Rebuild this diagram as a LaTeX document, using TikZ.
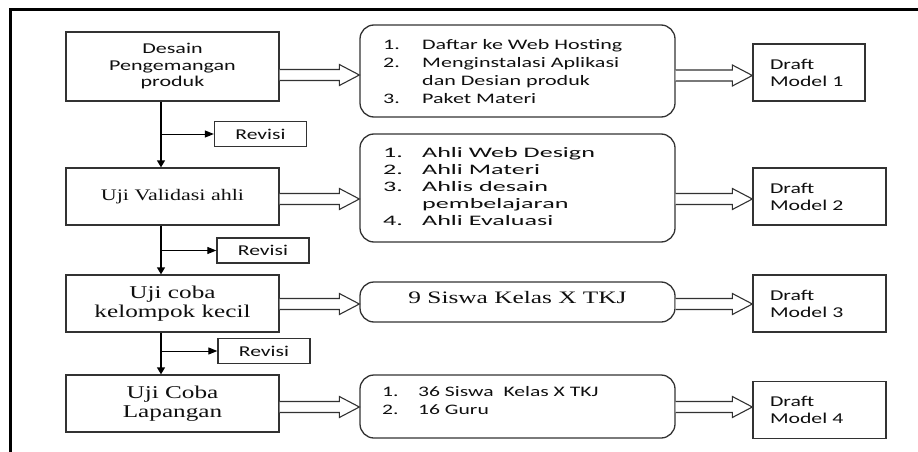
\documentclass[tikz,border=0pt]{standalone}
\usepackage{fontspec}
\setmainfont{Liberation Serif}
\newfontfamily\sfL[FakeStretch=1.52]{Carlito}
\newfontfamily\sfA[FakeStretch=1.8]{Carlito}
\newfontfamily\sfS[FakeStretch=1.49]{Carlito}
\newfontfamily\sfR[FakeStretch=1.44]{Carlito}
\newfontfamily\sfD[FakeStretch=1.45]{Carlito}
\newfontfamily\sfP[FakeStretch=1.47]{Carlito}
\newfontfamily\rmV[FakeStretch=1.367]{Liberation Serif}
\newfontfamily\rmU[FakeStretch=1.4]{Liberation Serif}
\newfontfamily\rmN[FakeStretch=1.447]{Liberation Serif}
\usetikzlibrary{arrows.meta,calc}
\definecolor{boxline}{RGB}{50,50,50}
\definecolor{txt}{RGB}{15,15,15}
\newcommand\harrow[3]{%
  \draw[hollow] let \p1=(#1.east), \p2=(#2.west) in
    (\x1,{-#3pt+5.5pt}) -- (\x2-20pt,{-#3pt+5.5pt}) -- (\x2-20pt,{-#3pt+10.5pt})
    -- (\x2,{-#3pt}) -- (\x2-20pt,{-#3pt-10.5pt}) -- (\x2-20pt,{-#3pt-5.5pt})
    -- (\x1,{-#3pt-5.5pt});}
\begin{document}
\begin{tikzpicture}[x=1pt,y=-1pt,
  every node/.style={text=txt},
  mainbox/.style={draw=boxline, line width=1.3pt, minimum width=213pt, inner sep=0pt, align=center},
  revbox/.style={draw=boxline, line width=1.3pt, minimum width=92pt, minimum height=25pt, inner sep=0pt,
    font=\sfR\fontsize{15}{17}\selectfont},
  rbox/.style={draw=boxline, line width=1.3pt, rounded corners=14pt, minimum width=315pt, inner sep=0pt},
  listtxt/.style={inner sep=0pt, align=left},
  dbox/.style={draw=boxline, line width=1.3pt, minimum height=57pt, inner xsep=17pt, inner ysep=0pt, align=left,
    font=\sfD\fontsize{15}{17}\selectfont},
  hollow/.style={draw=boxline, line width=1.1pt, fill=white, line join=miter},
  vline/.style={draw=black, line width=1.3pt, -{Triangle[width=8pt,length=7pt]}},
  bline/.style={draw=black, line width=1pt, -{Triangle[width=7pt,length=9pt]}},
  frame/.style={draw=black, line width=3pt}
]
\useasboundingbox (0,0) rectangle (918,452);
\draw[frame] (10,460) -- (10,9.5) -- (925,9.5);

% left column
\node[mainbox, minimum height=69pt, font=\sfP\fontsize{15}{16.5}\selectfont] (d1) at (172.5,66.5) {Desain\\Pengemangan\\produk};
\node[mainbox, minimum height=57pt, font=\rmV\fontsize{16.1}{18}\selectfont] (d2) at (172.5,196.5) {Uji Validasi ahli};
\node[mainbox, minimum height=57pt, font=\rmU\fontsize{18}{19.5}\selectfont] (d3) at (172.5,303.5) {Uji coba\\kelompok kecil};
\node[mainbox, minimum height=57pt, font=\rmU\fontsize{18}{19.5}\selectfont] (d4) at (172.5,403.5) {Uji Coba\\Lapangan};

% revisi
\node[revbox] (rv1) at (260.5,134) {Revisi};
\node[revbox] (rv2) at (263,250.5) {Revisi};
\node[revbox] (rv3) at (264,351) {Revisi};

% rounded boxes
\node[rbox, minimum height=92pt] (p1) at (517.5,71) {};
\node[rbox, minimum height=108pt] (p2) at (517.5,188) {};
\node[rbox, minimum height=40pt] (p3) at (517.5,302) {};
\node[rbox, minimum height=63pt] (p4) at (517.5,406.5) {};

\node[listtxt, anchor=west, font=\sfL\fontsize{14.5}{18}\selectfont] (l1) at (383,72.5)
  {\begin{tabular}{@{}p{39pt}@{}l@{}}1. & Daftar ke Web Hosting\\ 2. & Menginstalasi Aplikasi\\ & dan Desian produk\\ 3. & Paket Materi\end{tabular}};
\node[listtxt, anchor=west, font=\sfA\fontsize{14.5}{17}\selectfont] (l2) at (383,188)
  {\begin{tabular}{@{}p{39pt}@{}l@{}}1. & Ahli Web Design\\ 2. & Ahli Materi\\ 3. & Ahlis desain\\ & pembelajaran\\ 4. & Ahli Evaluasi\end{tabular}};
\node[listtxt, font=\rmN\fontsize{17.5}{19}\selectfont] (l3) at (517.5,297.5) {9 Siswa Kelas X TKJ};
\node[listtxt, anchor=west, font=\sfS\fontsize{14.5}{18}\selectfont] (l4) at (382,402.3)
  {\begin{tabular}{@{}p{36pt}@{}l@{}}1. & 36 Siswa\ \ Kelas X TKJ\\ 2. & 16 Guru\end{tabular}};

% draft boxes
\node[dbox, minimum width=112pt, text width=78pt] (m1) at (809,72.5) {Draft\\Model 1};
\node[dbox, minimum width=133pt, text width=99pt] (m2) at (819.5,196.5) {Draft\\Model 2};
\node[dbox, minimum width=133pt, text width=99pt] (m3) at (819.5,303.5) {Draft\\Model 3};
\node[dbox, minimum width=133pt, text width=99pt] (m4) at (819.5,410) {Draft\\Model 4};

% vertical flow
\coordinate (vx) at (161,0);
\draw[vline] (d1.south -| vx) -- (d2.north -| vx);
\draw[vline] (d2.south -| vx) -- (d3.north -| vx);
\draw[vline] (d3.south -| vx) -- (d4.north -| vx);
\draw[bline] (vx |- rv1.west) -- (rv1.west);
\draw[bline] (vx |- rv2.west) -- (rv2.west);
\draw[bline] (vx |- rv3.west) -- (rv3.west);

% hollow arrows
\harrow{d1}{p1}{75}
\harrow{p1}{m1}{75.5}
\harrow{d2}{p2}{199}
\harrow{p2}{m2}{199}
\harrow{d3}{p3}{304}
\harrow{p3}{m3}{304}
\harrow{d4}{p4}{407}
\harrow{p4}{m4}{407}
\end{tikzpicture}
\end{document}
